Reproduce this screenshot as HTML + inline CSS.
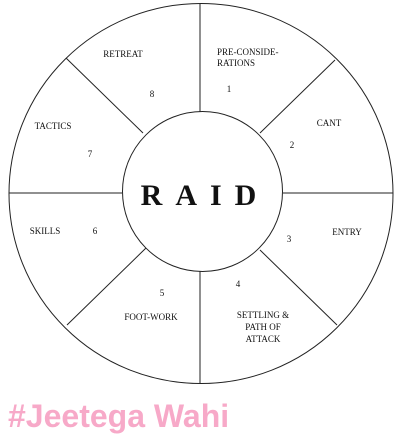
<!DOCTYPE html>
<html><head><meta charset="utf-8"><style>
html,body{margin:0;padding:0;background:#fff;width:419px;height:446px;overflow:hidden}
svg{display:block}
.l{font-family:"Liberation Serif",serif;font-size:9px;fill:#111}
.n{font-family:"Liberation Serif",serif;font-size:9px;fill:#111}
</style></head><body>
<svg width="419" height="446" viewBox="0 0 419 446">
<g stroke="#222" stroke-width="1" fill="none">
<ellipse cx="201" cy="193.5" rx="192" ry="190"/>
<circle cx="202.5" cy="191.5" r="80"/>
<line x1="200" y1="4" x2="200" y2="112"/>
<line x1="200" y1="271" x2="200" y2="383"/>
<line x1="9" y1="193" x2="122" y2="193"/>
<line x1="283" y1="193" x2="393" y2="193"/>
<line x1="260" y1="133" x2="335" y2="60"/>
<line x1="260" y1="250" x2="337" y2="325"/>
<line x1="143" y1="133" x2="66" y2="58"/>
<line x1="146" y1="248" x2="67" y2="325"/>
</g>
<text x="205" y="205" text-anchor="middle" font-family="Liberation Serif,serif" font-weight="bold" font-size="30" letter-spacing="13" fill="#111">RAID</text>
<text class="l" x="123" y="57" text-anchor="middle">RETREAT</text>
<text class="n" x="152" y="97" text-anchor="middle">8</text>
<text class="l" x="217" y="55">PRE-CONSIDE-</text>
<text class="l" x="217" y="66">RATIONS</text>
<text class="n" x="229" y="92" text-anchor="middle">1</text>
<text class="l" x="329" y="126" text-anchor="middle">CANT</text>
<text class="n" x="292" y="148" text-anchor="middle">2</text>
<text class="l" x="53" y="129" text-anchor="middle">TACTICS</text>
<text class="n" x="90" y="157" text-anchor="middle">7</text>
<text class="l" x="45" y="234" text-anchor="middle">SKILLS</text>
<text class="n" x="95" y="234" text-anchor="middle">6</text>
<text class="l" x="347" y="235" text-anchor="middle">ENTRY</text>
<text class="n" x="289" y="242" text-anchor="middle">3</text>
<text class="n" x="162" y="296" text-anchor="middle">5</text>
<text class="l" x="151" y="320" text-anchor="middle">FOOT-WORK</text>
<text class="n" x="238" y="287" text-anchor="middle">4</text>
<text class="l" x="263" y="318" text-anchor="middle">SETTLING &amp;</text>
<text class="l" x="263" y="330" text-anchor="middle">PATH OF</text>
<text class="l" x="263" y="342" text-anchor="middle">ATTACK</text>
<text x="8" y="427" font-family="Liberation Sans,sans-serif" font-weight="bold" font-size="32" fill="#f7a9c8">#Jeetega Wahi</text>
</svg>
</body></html>
